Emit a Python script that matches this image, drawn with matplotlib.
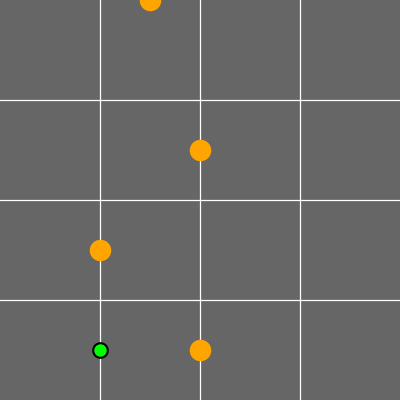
import matplotlib
matplotlib.use("Agg")
import matplotlib.pyplot as plt

orange_x = [1.5, 2.0, 1.0, 2.0]
orange_y = [4.0, 2.5, 1.5, 0.5]
green_x = [1.0]
green_y = [0.5]
grid_vals = [1, 2, 3]

fig = plt.figure(figsize=(4, 4), dpi=100)
ax = fig.add_axes([0, 0, 1, 1])
ax.set_facecolor("#666666")
fig.patch.set_facecolor("#666666")
ax.set_xlim(0, 4)
ax.set_ylim(0, 4)
for v in grid_vals:
    ax.axvline(v, color="white", lw=0.9, zorder=1)
    ax.axhline(v, color="white", lw=0.9, zorder=1)
ax.plot(orange_x, orange_y, "o", color="#FFA500", ms=15.5, mew=0, zorder=3, clip_on=True)
ax.plot(green_x, green_y, "o", color="#00FF00", ms=10.5, mec="black", mew=1.5, zorder=4)
for s in ax.spines.values():
    s.set_visible(False)
ax.set_xticks([])
ax.set_yticks([])
fig.savefig("out.png", dpi=100, facecolor=fig.get_facecolor())
